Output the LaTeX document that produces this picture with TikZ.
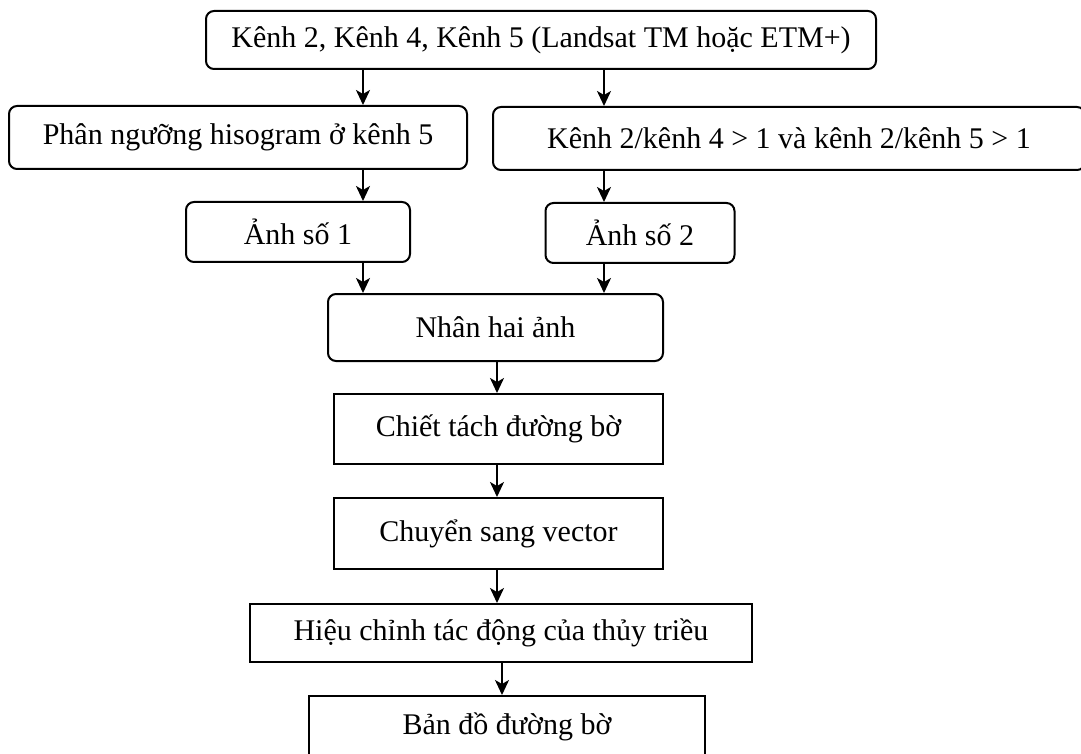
\documentclass[tikz,border=0pt]{standalone}
\usepackage{fontspec}
\setmainfont{Liberation Serif}
\usetikzlibrary{arrows.meta}
\begin{document}
\begin{tikzpicture}[x=0.5pt, y=-0.5pt, >={Stealth[length=7.5pt,width=7pt,inset=2pt]},
    hop/.style={draw, line width=1pt, inner sep=0pt, font=\fontsize{15}{17}\selectfont},
    hopbo/.style={hop, rounded corners=4pt},
    muiten/.style={->, line width=1pt}]
    \useasboundingbox (0,0) rectangle (1081,754);
    % cac hop
    \node[hopbo, minimum width=335pt, minimum height=29pt] (kenh) at (541,40) {Kênh 2, Kênh 4, Kênh 5 (Landsat TM hoặc ETM+)};
    \node[hopbo, minimum width=229pt, minimum height=31.5pt] (phan) at (238,137.5) {Phân ngưỡng hisogram ở kênh 5};
    \node[hopbo, minimum width=296pt, minimum height=31.5pt] (tiso) at (789,138.5) {Kênh 2/kênh 4 > 1 và kênh 2/kênh 5 > 1};
    \node[hopbo, minimum width=112pt, minimum height=30pt] (anh1) at (298,232) {Ảnh số 1};
    \node[hopbo, minimum width=94.5pt, minimum height=30pt] (anh2) at (640,233) {Ảnh số 2};
    \node[hopbo, minimum width=167.5pt, minimum height=33.5pt] (nhan) at (495.5,327.5) {Nhân hai ảnh};
    \node[hop, minimum width=164.5pt, minimum height=35pt] (chiet) at (498.5,429) {Chiết tách đường bờ};
    \node[hop, minimum width=164.5pt, minimum height=35.5pt] (vector) at (498.5,533.5) {Chuyển sang vector};
    \node[hop, minimum width=251pt, minimum height=29pt] (hieu) at (501,633) {Hiệu chỉnh tác động của thủy triều};
    \node[hop, minimum width=198pt, minimum height=31pt] (bando) at (507,727) {Bản đồ đường bờ};
    % cot mui ten
    \coordinate (trai) at (363,0);
    \coordinate (phai) at (604,0);
    \coordinate (giua) at (497,0);
    \coordinate (cuoi) at (502,0);
    \draw[muiten] (kenh.south -| trai) -- (phan.north -| trai);
    \draw[muiten] (kenh.south -| phai) -- (tiso.north -| phai);
    \draw[muiten] (phan.south -| trai) -- (anh1.north -| trai);
    \draw[muiten] (tiso.south -| phai) -- (anh2.north -| phai);
    \draw[muiten] (anh1.south -| trai) -- (nhan.north -| trai);
    \draw[muiten] (anh2.south -| phai) -- (nhan.north -| phai);
    \draw[muiten] (nhan.south -| giua) -- (chiet.north -| giua);
    \draw[muiten] (chiet.south -| giua) -- (vector.north -| giua);
    \draw[muiten] (vector.south -| giua) -- (hieu.north -| giua);
    \draw[muiten] (hieu.south -| cuoi) -- (bando.north -| cuoi);
\end{tikzpicture}
\end{document}
